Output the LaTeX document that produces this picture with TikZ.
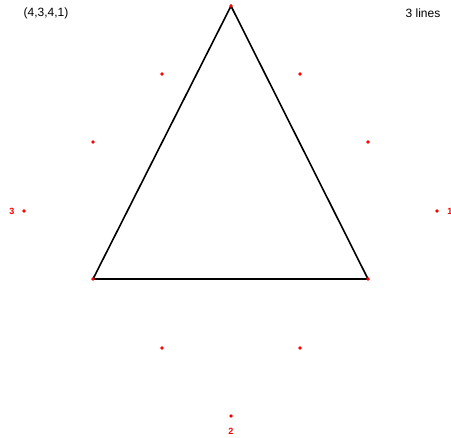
\documentclass[tikz,border=0pt]{standalone}
\usepackage{fontspec}
\setmainfont{Liberation Sans}
\usetikzlibrary{calc}

\begin{document}
\begin{tikzpicture}[x=1pt, y=-1pt]

        %
        \useasboundingbox (0,0) rectangle (451,438);

        %
        \coordinate (T) at (231,6);
        \coordinate (TR1) at (300,74);
        \coordinate (TR2) at (368,142);
        \coordinate (R) at (437,211);
        \coordinate (BR1) at (368,279);
        \coordinate (BR2) at (300,348);
        \coordinate (B) at (231,416);
        \coordinate (BL1) at (162,348);
        \coordinate (BL2) at (93,279);
        \coordinate (L) at (24,211);
        \coordinate (TL1) at (93,142);
        \coordinate (TL2) at (162,74);

        %
        \draw[line width=1.6pt] (T) -- (BR1) -- (BL2) -- cycle;

        %
        \foreach \p in {T,TR1,TR2,R,BR1,BR2,B,BL1,BL2,L,TL1,TL2}
            \fill[red] (\p) circle (1.8);

        %
        \node[red, font=\bfseries\fontsize{9}{9}\selectfont] (lab1) at (450,211) {1};
        \node[red, font=\bfseries\fontsize{9}{9}\selectfont] (lab2) at (231,431) {2};
        \node[red, font=\bfseries\fontsize{9}{9}\selectfont] (lab3) at (12,211) {3};

        %
        \node[font=\fontsize{12}{12}\selectfont] (code) at (46,13) {(4,3,4,1)};
        \node[font=\fontsize{12}{12}\selectfont] (count) at (423,13) {3 lines};

    \end{tikzpicture}
\end{document}
